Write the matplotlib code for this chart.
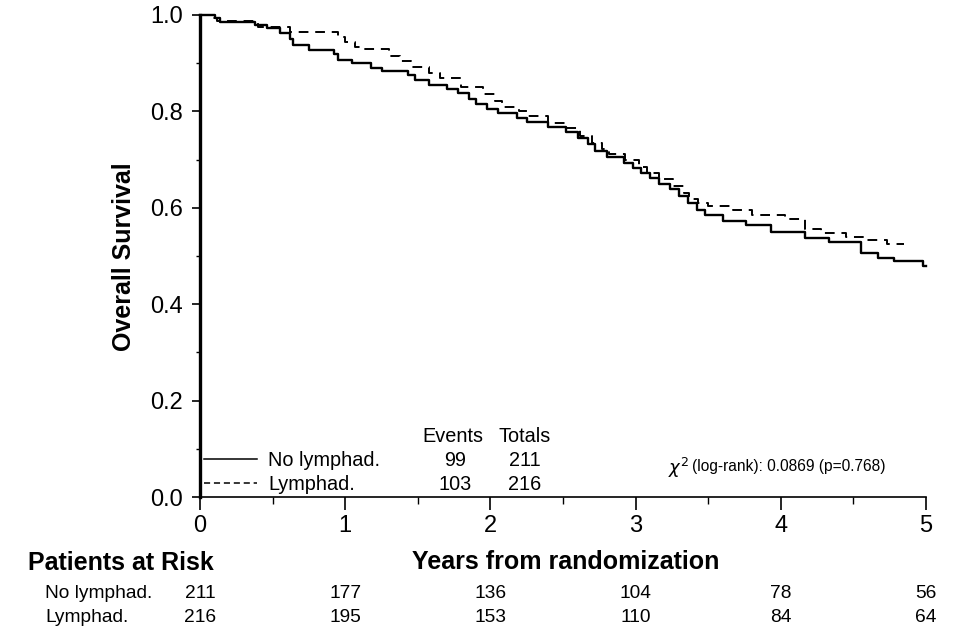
import matplotlib
matplotlib.use('Agg')
import matplotlib.pyplot as plt
import matplotlib.transforms as mtransforms
from matplotlib.ticker import MultipleLocator, FormatStrFormatter

plt.rcParams['font.family'] = ['Liberation Sans', 'DejaVu Sans']

# Kaplan-Meier steps: time of each drop (years) and survival after it
no_lymph_t = [0.00, 0.10, 0.14, 0.38, 0.46, 0.55, 0.62, 0.64, 0.75, 0.92, 0.95,
              1.05, 1.18, 1.25, 1.43, 1.48, 1.58, 1.70, 1.78, 1.85, 1.90, 1.98,
              2.05, 2.18, 2.25, 2.40, 2.52, 2.60, 2.67, 2.72, 2.80, 2.92, 2.98,
              3.04, 3.10, 3.16, 3.24, 3.30, 3.36, 3.42, 3.48, 3.60, 3.76, 3.93,
              4.17, 4.33, 4.55, 4.67, 4.78, 4.98, 5.00]
no_lymph_s = [1.000, 0.993, 0.986, 0.979, 0.972, 0.962, 0.950, 0.938, 0.927, 0.920, 0.907,
              0.900, 0.890, 0.884, 0.875, 0.865, 0.855, 0.846, 0.838, 0.826, 0.815, 0.805,
              0.797, 0.787, 0.777, 0.767, 0.757, 0.745, 0.733, 0.718, 0.706, 0.692, 0.682,
              0.672, 0.662, 0.650, 0.638, 0.625, 0.610, 0.595, 0.585, 0.573, 0.564, 0.550,
              0.537, 0.529, 0.506, 0.496, 0.490, 0.479, 0.479]

lymph_t = [0.00, 0.06, 0.12, 0.40, 0.62, 0.95, 1.00, 1.07, 1.12, 1.30, 1.38,
           1.45, 1.58, 1.65, 1.80, 1.95, 2.03, 2.08, 2.20, 2.25, 2.40, 2.52,
           2.62, 2.70, 2.77, 2.82, 2.93, 3.02, 3.08, 3.16, 3.26, 3.33, 3.37,
           3.43, 3.50, 3.67, 3.80, 4.03, 4.17, 4.28, 4.45, 4.57, 4.73, 4.85]
lymph_s = [1.000, 0.994, 0.988, 0.975, 0.965, 0.955, 0.945, 0.934, 0.929, 0.915, 0.905,
           0.893, 0.880, 0.870, 0.850, 0.836, 0.822, 0.810, 0.800, 0.790, 0.775, 0.765,
           0.750, 0.735, 0.722, 0.712, 0.700, 0.684, 0.672, 0.660, 0.645, 0.630, 0.618,
           0.610, 0.604, 0.595, 0.585, 0.577, 0.555, 0.548, 0.540, 0.533, 0.525, 0.525]

groups = ['No lymphad.', 'Lymphad.']
events = [99, 103]
totals = [211, 216]
chi_sq = 0.0869
p_value = 0.768

risk_times = [0, 1, 2, 3, 4, 5]
risk_no_lymph = [211, 177, 136, 104, 78, 56]
risk_lymph = [216, 195, 153, 110, 84, 64]

W, H = 960, 635


def px(x, y):
    # pixel position -> figure fraction
    return x / W, 1 - y / H


fig = plt.figure(figsize=(9.6, 6.35), dpi=100)
ax = fig.add_axes([200 / W, 1 - 497 / H, 726 / W, 482 / H])

ax.step(no_lymph_t, no_lymph_s, where='post', color='black', lw=1.7, clip_on=False)
ax.step(lymph_t, lymph_s, where='post', color='black', lw=1.4,
        linestyle=(0, (5, 3.5)), clip_on=False)

ax.set_xlim(0, 5)
ax.set_ylim(0, 1)
for s in ['top', 'right']:
    ax.spines[s].set_visible(False)
ax.spines['left'].set_linewidth(2.4)
ax.spines['bottom'].set_linewidth(1.2)

ax.xaxis.set_major_locator(MultipleLocator(1))
ax.xaxis.set_minor_locator(MultipleLocator(0.5))
ax.yaxis.set_major_locator(MultipleLocator(0.2))
ax.yaxis.set_minor_locator(MultipleLocator(0.1))
ax.yaxis.set_major_formatter(FormatStrFormatter('%.1f'))
ax.tick_params(axis='both', which='major', direction='out', labelsize=17, width=1.2)
ax.tick_params(axis='y', which='major', length=6, pad=6)
ax.tick_params(axis='x', which='major', length=9, pad=4)
ax.tick_params(axis='y', which='minor', length=3, width=1)
ax.tick_params(axis='x', which='minor', length=5, width=1)

fig.text(*px(124, 257), 'Overall Survival', rotation=90, fontsize=18,
         fontweight='bold', ha='center', va='center')

# legend block with event counts
fig.text(*px(453, 437), 'Events', fontsize=14.3, ha='center', va='center')
fig.text(*px(525, 437), 'Totals', fontsize=14.3, ha='center', va='center')
styles = ['-', (0, (4, 2.5))]
for i, name in enumerate(groups):
    y = 459 + 24 * i
    x0, yy = px(204, y)
    x1, _ = px(257, y)
    fig.add_artist(plt.Line2D([x0, x1], [yy, yy], color='black', lw=1.1,
                              linestyle=styles[i], transform=fig.transFigure))
    fig.text(*px(268, y + 2), name, fontsize=14.3, ha='left', va='center')
    fig.text(*px(455, y + 2), str(events[i]), fontsize=14.3, ha='center', va='center')
    fig.text(*px(525, y + 2), str(totals[i]), fontsize=14.3, ha='center', va='center')

fig.text(*px(668, 468), r'$\chi^{2}$', fontsize=13, ha='left', va='center')
fig.text(*px(692, 466), '(log-rank): %.4f (p=%.3f)' % (chi_sq, p_value),
         fontsize=11.2, ha='left', va='center')

# patients at risk table
fig.text(*px(28, 563), 'Patients at Risk', fontsize=18, fontweight='bold',
         ha='left', va='center')
fig.text(*px(566, 562), 'Years from randomization', fontsize=18, fontweight='bold',
         ha='center', va='center')
trans = mtransforms.blended_transform_factory(ax.transData, fig.transFigure)
for row, (name, counts) in enumerate(zip(groups, [risk_no_lymph, risk_lymph])):
    yf = 1 - (593 + 24 * row) / H
    fig.text(45 / W, yf, name, fontsize=13.8, ha='left', va='center')
    for t, n in zip(risk_times, counts):
        ax.text(t, yf, str(n), fontsize=13.8, ha='center', va='center',
                transform=trans, clip_on=False)

fig.savefig('out.png', dpi=100)
